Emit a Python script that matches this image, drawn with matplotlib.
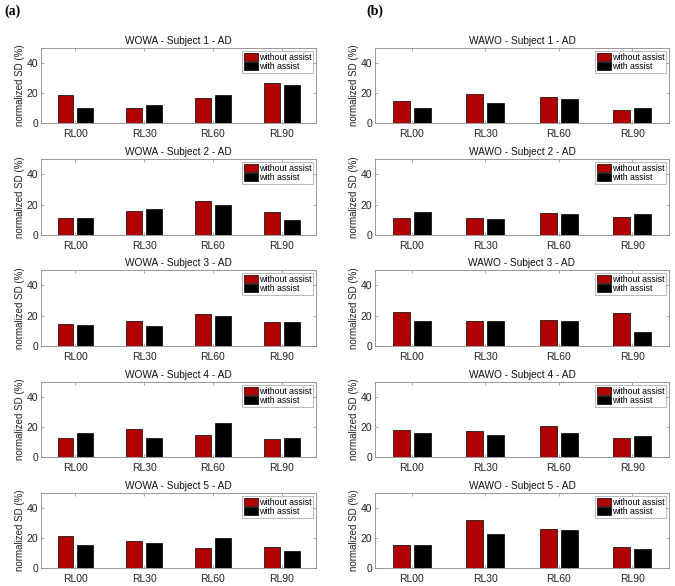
import matplotlib
matplotlib.use("Agg")
import matplotlib.pyplot as plt
import numpy as np

plt.rcParams['font.family'] = ['Liberation Sans', 'DejaVu Sans']

categories = ["RL00", "RL30", "RL60", "RL90"]
series_names = ["without assist", "with assist"]

wowa_without = [[19, 10, 17, 26.4],
                [10.9, 15.7, 22.3, 15.3],
                [14.2, 16.4, 21.2, 15.5],
                [13, 18.7, 14.7, 12],
                [21.3, 17.8, 13.5, 14.1]]
wowa_with = [[10, 12.2, 18.4, 25.6],
             [10.9, 17, 19.6, 9.8],
             [13.8, 12.9, 19.7, 16],
             [16, 13, 23, 13],
             [15.2, 17, 19.8, 11.5]]
wawo_without = [[14.4, 19.3, 17.3, 8.9],
                [11.5, 11.5, 14.3, 11.7],
                [22.1, 16.6, 16.8, 21.9],
                [18, 17.6, 21, 12.7],
                [15.6, 32.2, 26.3, 14.3]]
wawo_with = [[10, 13.1, 16.2, 10.2],
             [15.4, 10.4, 14.1, 13.9],
             [16.7, 16.6, 16.2, 9.4],
             [15.8, 14.7, 16, 14],
             [15.2, 22.4, 25.2, 12.6]]

W, H = 675, 586
fig = plt.figure(figsize=(W / 100, H / 100), dpi=100)

col_x = [(41, 316), (375, 669)]
row_y = [(48, 123), (159, 235), (270, 346), (382, 457), (493, 568)]

red = "#B00000"

def make_ax(x0, x1, y0, y1):
    return fig.add_axes([x0 / W, 1 - y1 / H, (x1 - x0) / W, (y1 - y0) / H])

panels = [("WOWA", wowa_without, wowa_with), ("WAWO", wawo_without, wawo_with)]
x = np.arange(1, len(categories) + 1)
bw = 0.23
off = 0.145
for c, (name, wo, wi) in enumerate(panels):
    for r in range(5):
        ax = make_ax(col_x[c][0], col_x[c][1], row_y[r][0], row_y[r][1])
        ax.bar(x - off, wo[r], bw, color=red, edgecolor="black", linewidth=0.5, label=series_names[0])
        ax.bar(x + off, wi[r], bw, color="black", edgecolor="black", linewidth=0.5, label=series_names[1])
        ax.set_xlim(0.5, 4.5)
        ax.set_ylim(0, 50)
        ax.set_xticks(x)
        ax.set_xticklabels(categories)
        ax.set_yticks([0, 20, 40])
        ax.tick_params(direction="in", length=2.5, width=0.5, colors="#888888",
                       labelcolor="#222222", labelsize=7.5, top=True, right=True, pad=2)
        ax.tick_params(axis="x", pad=4)
        for s in ax.spines.values():
            s.set_color("#888888")
            s.set_linewidth(0.6)
        ax.set_title(f"{name} - Subject {r + 1} - AD", fontsize=7.3, pad=3, color="#111111")
        ax.set_ylabel("normalized SD (%)", fontsize=7.0, color="#222222", labelpad=1)
        leg = ax.legend(loc="upper right", fontsize=6.3, frameon=True, fancybox=False,
                        borderpad=0.25, handlelength=1.6, handleheight=1.0, handletextpad=0.05,
                        labelspacing=0.05, borderaxespad=0.3)
        leg.get_frame().set_edgecolor("#888888")
        leg.get_frame().set_linewidth(0.5)

fig.text(4 / W, 1 - 11 / H, "(a)", fontsize=10, fontweight="bold", family="Liberation Serif", va="center", ha="left")
fig.text(366 / W, 1 - 11 / H, "(b)", fontsize=10, fontweight="bold", family="Liberation Serif", va="center", ha="left")

fig.savefig("out.png", dpi=100, facecolor="white")
